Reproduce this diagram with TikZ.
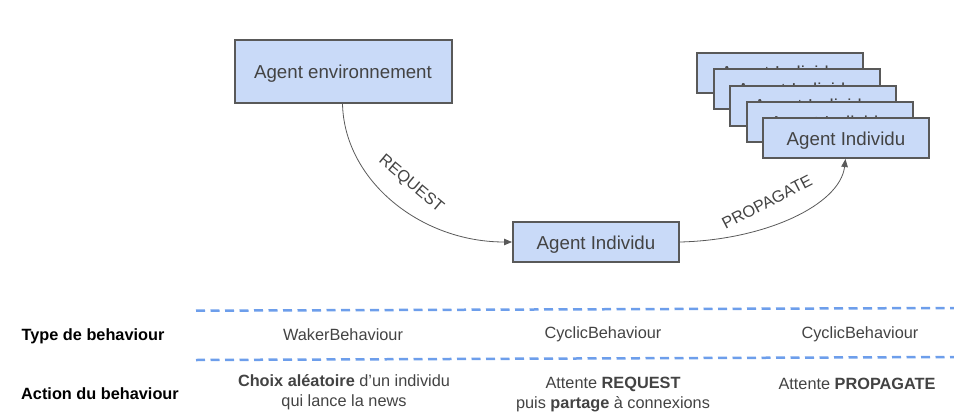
\documentclass[tikz,border=0pt]{standalone}
\usepackage{fontspec}
\setmainfont{Liberation Sans}
\usetikzlibrary{arrows.meta}
\definecolor{boxfill}{HTML}{C9DAF8}
\definecolor{boxline}{HTML}{595959}
\definecolor{txt}{HTML}{434343}
\definecolor{dashblue}{HTML}{6D9EEB}
\tikzset{
  agentbox/.style={draw=boxline, line width=2pt, fill=boxfill, text=txt, inner sep=0pt,
    text height=14.5pt, text depth=0pt,
    font=\fontsize{18.7}{22}\selectfont},
  conn/.style={draw=boxline, line width=0.8pt, -{Triangle[length=8pt,width=6.5pt]}},
  lbl/.style={text=txt, font=\fontsize{16.3}{19}\selectfont, inner sep=0pt},
  cell/.style={text=txt, font=\fontsize{16.3}{20}\selectfont, inner sep=0pt, align=center},
  head/.style={text=black, font=\fontsize{16.3}{20}\selectfont\bfseries, inner sep=0pt},
  sep/.style={draw=dashblue, line width=2.5pt, dash pattern=on 9pt off 5.5pt},
}
\begin{document}
\begin{tikzpicture}[x=1pt,y=-1pt]
\useasboundingbox (0,0) rectangle (954,418);
% boxes
\node[agentbox, minimum width=217pt, minimum height=63pt] (env) at (343,71) {Agent environnement};
\node[agentbox, minimum width=166pt, minimum height=40pt] (mid) at (596,242) {Agent Individu};
\node[agentbox, minimum width=166pt, minimum height=40pt] (s1) at (780,72.5) {Agent Individu};
\node[agentbox, minimum width=166pt, minimum height=40pt] (s2) at (796.5,89) {Agent Individu};
\node[agentbox, minimum width=166pt, minimum height=40pt] (s3) at (813,105.5) {Agent Individu};
\node[agentbox, minimum width=166pt, minimum height=40pt] (s4) at (829.5,122) {Agent Individu};
\node[agentbox, minimum width=166pt, minimum height=40pt] (s5) at (846,138) {Agent Individu};
% connectors
\draw[conn] ([xshift=-0.5pt]env.south) .. controls (344,180) and (420,242) .. (mid.west);
\draw[conn] (mid.east) .. controls (765,240) and (840,205) .. ([xshift=-0.5pt]s5.south);
\node[lbl, rotate=-40] (lreq) at (411,184) {REQUEST};
\node[lbl, rotate=27.5] (lprop) at (767,202) {PROPAGATE};
% separators
\coordinate (d1a) at (196,310.7);
\coordinate (d1b) at (954,308);
\coordinate (d2a) at (196,360);
\coordinate (d2b) at (954,357);
\draw[sep] (d1a) -- (d1b);
\draw[sep] (d2a) -- (d2b);
% table
\node[head] (h1) at (93,336) {Type de behaviour};
\node[head] (h2) at (100,394) {Action du behaviour};
\node[cell] (c11) at (343,335) {WakerBehaviour};
\node[cell] (c12) at (603,334) {CyclicBehaviour};
\node[cell] (c13) at (860,334) {CyclicBehaviour};
\node[cell] (c21) at (344,392) {\textbf{Choix aléatoire} d’un individu\\qui lance la news};
\node[cell] (c22) at (613,395) {Attente \textbf{REQUEST}\\puis \textbf{partage} à connexions};
\node[cell] (c23) at (857,384) {Attente \textbf{PROPAGATE}};
\end{tikzpicture}
\end{document}
